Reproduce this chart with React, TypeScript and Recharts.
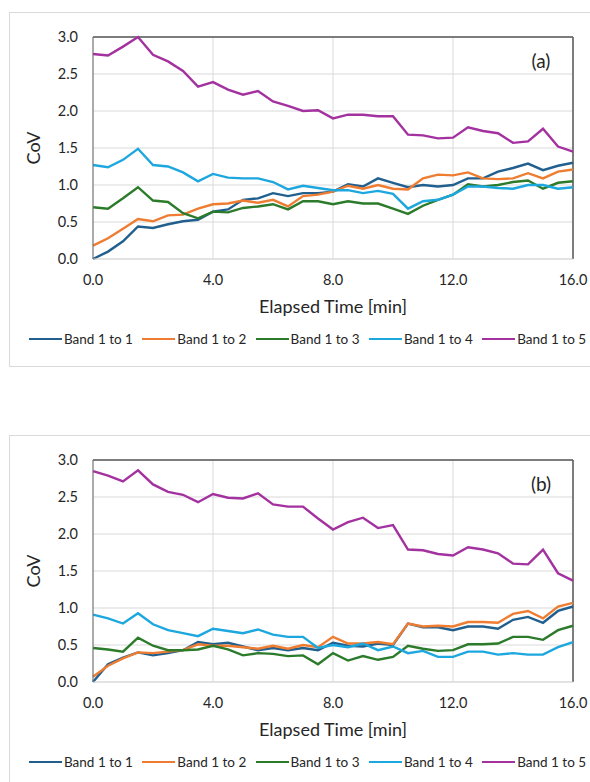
import React from 'react';
import { LineChart, Line, XAxis, YAxis, CartesianGrid, ReferenceLine, Label } from 'recharts';

// elapsed time [min], one sample every half minute
const TIME = [
  0, 0.5, 1, 1.5, 2, 2.5, 3, 3.5, 4, 4.5, 5, 5.5, 6, 6.5, 7, 7.5, 8,
  8.5, 9, 9.5, 10, 10.5, 11, 11.5, 12, 12.5, 13, 13.5, 14, 14.5, 15, 15.5, 16,
];

const X_TICKS = [0, 4, 8, 12, 16];
const Y_TICKS = [0, 0.5, 1, 1.5, 2, 2.5, 3];

// panel (a)
const A_BAND1 = [0.0, 0.1, 0.24, 0.44, 0.42, 0.47, 0.51, 0.53, 0.64, 0.67, 0.8, 0.82, 0.89, 0.85, 0.89, 0.89, 0.91,
  1.01, 0.98, 1.09, 1.03, 0.97, 1.0, 0.98, 1.0, 1.09, 1.09, 1.18, 1.23, 1.29, 1.2, 1.26, 1.3];
const A_BAND2 = [0.18, 0.28, 0.41, 0.54, 0.51, 0.59, 0.6, 0.68, 0.74, 0.75, 0.79, 0.76, 0.8, 0.71, 0.85, 0.87, 0.91,
  0.99, 0.95, 1.0, 0.95, 0.94, 1.09, 1.14, 1.13, 1.17, 1.09, 1.08, 1.09, 1.16, 1.09, 1.18, 1.21];
const A_BAND3 = [0.7, 0.68, 0.82, 0.97, 0.79, 0.77, 0.62, 0.55, 0.64, 0.63, 0.69, 0.71, 0.74, 0.67, 0.78, 0.78, 0.74,
  0.78, 0.75, 0.75, 0.68, 0.61, 0.72, 0.8, 0.87, 1.01, 0.98, 1.0, 1.04, 1.06, 0.95, 1.03, 1.05];
const A_BAND4 = [1.27, 1.24, 1.34, 1.49, 1.27, 1.25, 1.17, 1.05, 1.15, 1.1, 1.09, 1.09, 1.04, 0.94, 0.99, 0.96, 0.93,
  0.93, 0.89, 0.92, 0.88, 0.68, 0.78, 0.8, 0.87, 0.98, 0.98, 0.96, 0.95, 1.0, 1.0, 0.95, 0.97];
const A_BAND5 = [2.77, 2.75, 2.87, 3.0, 2.76, 2.67, 2.54, 2.33, 2.39, 2.29, 2.22, 2.27, 2.13, 2.07, 2.0, 2.01, 1.9,
  1.95, 1.95, 1.93, 1.93, 1.68, 1.67, 1.63, 1.64, 1.78, 1.73, 1.7, 1.57, 1.59, 1.76, 1.52, 1.45];

// panel (b)
const B_BAND1 = [0.0, 0.24, 0.33, 0.4, 0.36, 0.39, 0.43, 0.54, 0.51, 0.53, 0.48, 0.43, 0.46, 0.43, 0.46, 0.43, 0.53,
  0.49, 0.48, 0.52, 0.5, 0.79, 0.74, 0.74, 0.7, 0.75, 0.75, 0.72, 0.84, 0.88, 0.8, 0.96, 1.02];
const B_BAND2 = [0.07, 0.22, 0.32, 0.4, 0.39, 0.41, 0.43, 0.51, 0.49, 0.49, 0.47, 0.45, 0.49, 0.45, 0.5, 0.47, 0.61,
  0.52, 0.52, 0.54, 0.51, 0.79, 0.75, 0.76, 0.75, 0.81, 0.81, 0.8, 0.92, 0.96, 0.86, 1.02, 1.07];
const B_BAND3 = [0.46, 0.44, 0.41, 0.6, 0.49, 0.43, 0.43, 0.44, 0.49, 0.44, 0.36, 0.39, 0.38, 0.35, 0.36, 0.24, 0.39,
  0.29, 0.35, 0.3, 0.34, 0.49, 0.45, 0.42, 0.43, 0.51, 0.51, 0.52, 0.61, 0.61, 0.57, 0.7, 0.76];
const B_BAND4 = [0.91, 0.86, 0.79, 0.93, 0.78, 0.7, 0.66, 0.62, 0.72, 0.69, 0.66, 0.71, 0.64, 0.61, 0.61, 0.46, 0.5,
  0.47, 0.52, 0.43, 0.48, 0.39, 0.42, 0.34, 0.34, 0.41, 0.41, 0.37, 0.39, 0.37, 0.37, 0.47, 0.54];
const B_BAND5 = [2.85, 2.79, 2.71, 2.86, 2.67, 2.57, 2.53, 2.43, 2.54, 2.49, 2.48, 2.55, 2.4, 2.37, 2.37, 2.21, 2.06,
  2.16, 2.22, 2.08, 2.12, 1.79, 1.78, 1.73, 1.71, 1.82, 1.79, 1.74, 1.6, 1.59, 1.79, 1.47, 1.37];

const SERIES = [
  { key: 'b1', name: 'Band 1 to 1', color: '#215f8e' },
  { key: 'b2', name: 'Band 1 to 2', color: '#ee7d32' },
  { key: 'b3', name: 'Band 1 to 3', color: '#2b7b2b' },
  { key: 'b4', name: 'Band 1 to 4', color: '#1ca7de' },
  { key: 'b5', name: 'Band 1 to 5', color: '#a3319f' },
];

const buildRows = (bands: number[][]) =>
  TIME.map((t, i) => ({ t, b1: bands[0][i], b2: bands[1][i], b3: bands[2][i], b4: bands[3][i], b5: bands[4][i] }));

const DATA_A = buildRows([A_BAND1, A_BAND2, A_BAND3, A_BAND4, A_BAND5]);
const DATA_B = buildRows([B_BAND1, B_BAND2, B_BAND3, B_BAND4, B_BAND5]);

const FONT = 'Lato, "Open Sans", sans-serif';
const TEXT = '#262626';

function Panel({ top, data, tag }: { top: number; data: any[]; tag: string }) {
  return (
    <div style={{ position: 'absolute', left: 0, top, width: 590, height: 370 }}>
      <div
        style={{
          position: 'absolute', left: 9, top: 12, width: 600, height: 355,
          border: '1px solid #d9d9d9', boxSizing: 'border-box',
        }}
      />
      <LineChart width={590} height={330} data={data} margin={{ top: 37, right: 17, left: 10, bottom: 0 }}>
        <CartesianGrid stroke="#d9d9d9" strokeWidth={1} />
        <XAxis
          dataKey="t"
          type="number"
          domain={[0, 16]}
          ticks={X_TICKS}
          tickFormatter={(v) => v.toFixed(1)}
          height={71}
          tickSize={0}
          tickMargin={16}
          axisLine={{ stroke: '#d9d9d9' }}
          tick={{ fill: TEXT, fontSize: 14.5, fontFamily: FONT }}
        >
          <Label
            value="Elapsed Time [min]"
            position="insideBottom"
            offset={17}
            style={{ fill: TEXT, fontSize: 18, fontFamily: FONT }}
          />
        </XAxis>
        <YAxis
          type="number"
          domain={[0, 3]}
          ticks={Y_TICKS}
          tickFormatter={(v) => v.toFixed(1)}
          width={83}
          tickSize={0}
          tickMargin={15}
          axisLine={{ stroke: '#6b6b6b' }}
          tick={{ fill: TEXT, fontSize: 14.5, fontFamily: FONT }}
        >
          <Label
            value="CoV"
            angle={-90}
            position="insideLeft"
            offset={24}
            style={{ fill: TEXT, fontSize: 18, fontFamily: FONT, textAnchor: 'middle' }}
          />
        </YAxis>
        <ReferenceLine y={3} stroke="#595959" strokeWidth={1.5} />
        <ReferenceLine x={16} stroke="#595959" strokeWidth={1.5} />
        {SERIES.map((s) => (
          <Line
            key={s.key}
            dataKey={s.key}
            name={s.name}
            stroke={s.color}
            strokeWidth={2.4}
            dot={false}
            isAnimationActive={false}
          />
        ))}
      </LineChart>
      <div
        style={{
          position: 'absolute', left: 525, top: 49, width: 32, textAlign: 'center',
          fontFamily: FONT, fontSize: 19, lineHeight: '24px', color: TEXT,
        }}
      >
        {tag}
      </div>
      <div style={{ position: 'absolute', left: 29, top: 331, height: 16, display: 'flex', alignItems: 'center' }}>
        {SERIES.map((s) => (
          <div key={s.key} style={{ width: 113.3, display: 'flex', alignItems: 'center' }}>
            <span style={{ display: 'inline-block', width: 33, height: 0, borderTop: `2.5px solid ${s.color}`, marginRight: 2 }} />
            <span style={{ fontFamily: FONT, fontSize: 13.5, color: TEXT, whiteSpace: 'nowrap' }}>{s.name}</span>
          </div>
        ))}
      </div>
    </div>
  );
}

export default function App() {
  return (
    <div
      style={{
        position: 'absolute', left: 0, top: 0, width: 590, height: 782,
        overflow: 'hidden', background: '#fff',
      }}
    >
      <Panel top={0} data={DATA_A} tag="(a)" />
      <Panel top={423} data={DATA_B} tag="(b)" />
    </div>
  );
}
